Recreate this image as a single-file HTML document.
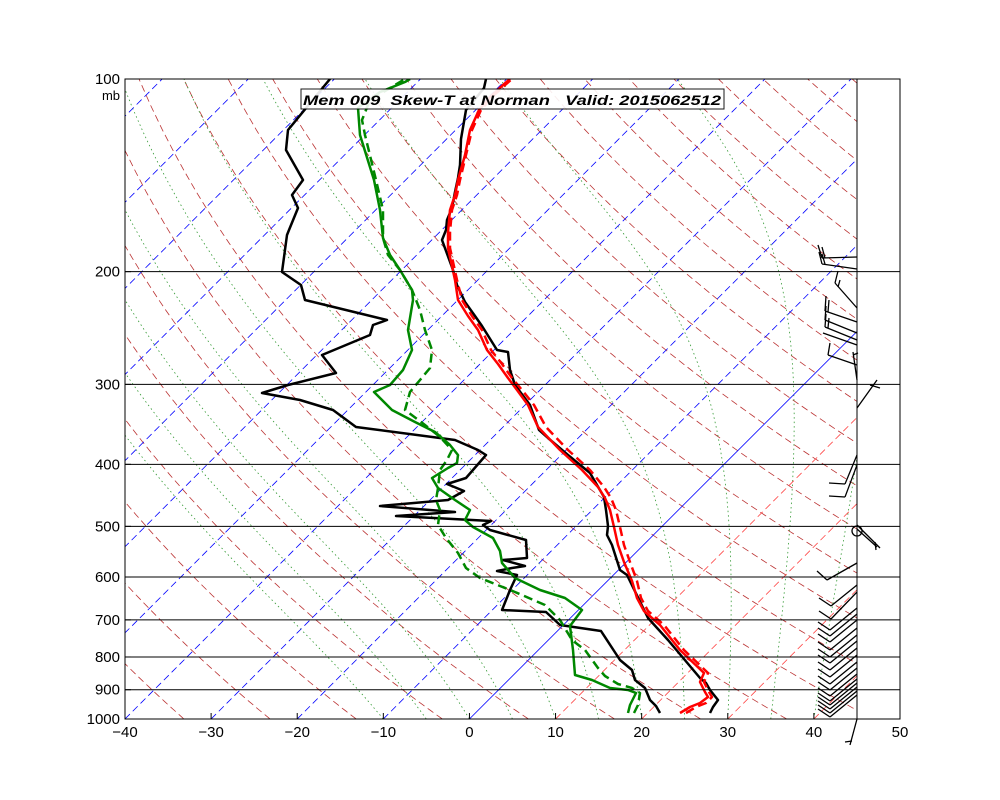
<!DOCTYPE html>
<html><head><meta charset="utf-8"><style>
body{margin:0;background:#fff;}
svg{display:block;font-family:"Liberation Sans",sans-serif;}
</style></head><body>
<svg id="s" width="1000" height="800" xmlns="http://www.w3.org/2000/svg">
<defs><clipPath id="c"><rect x="125" y="79" width="732" height="640"/></clipPath></defs>
<g id="bg" clip-path="url(#c)"></g>
<g id="data" clip-path="url(#c)" fill="none" stroke-width="2.5" stroke-linejoin="round">
<polyline stroke="#000" points="710,713 713,707 718,700 710,690 706,683 700,678 668,640 648,618 627,575 620,570 612,545 607,535 608,526 606,510 604,497 597,485 590,473 568,455 548,438 539,430 530,405 515,385 510,370 508,352 497,350 482,326 475,316 465,302 457,285 453,270 442,240 446,230 447,220 452,208 455,192 458,178 460,165 461,139 466,110 476,98 484,88 486,79"/>
<polyline stroke="#f00" stroke-dasharray="9,5" points="686,713 696,707 706,703 712,697 709,692 704,682 708,673 684,650 664,625 648,611 641,598 637,581 630,562 624,545 620,527 616,510 611,498 604,487 590,470 568,450 546,427 534,405 522,390 512,378 502,364 491,350 482,330 472,316 462,300 457,280 450,248 450,232 452,210 457,195 460,180 466,155 472,130 481,110 492,97 505,85 512,79"/>
<polyline stroke="#f00" points="680,713 690,707 700,703 708,697 705,692 700,682 704,673 680,650 660,625 644,611 637,598 632,581 624,562 618,545 614,527 610,510 605,498 598,487 582,470 560,450 538,427 528,405 517,390 508,378 498,364 487,350 478,330 468,316 458,300 455,280 448,248 448,232 450,210 455,195 458,180 465,155 470,130 479,110 490,97 503,85 510,79"/>
<polyline stroke="#000" points="660,713 656,706 650,700 645,688 635,680 632,670 620,660 601,631 560,625 546,612 502,610 510,590 517,575 497,571 512,568 525,566 503,560 527,558 526,540 490,530 483,525 491,521 396,516 455,512 380,506 448,500 464,491 447,484 466,478 486,455 478,450 455,440 356,427 333,410 300,400 262,393 288,385 336,373 322,355 370,335 373,325 387,320 305,300 301,285 282,272 287,235 289,230 298,208 292,195 303,180 286,150 288,130 330,79"/>
<polyline stroke="#080" stroke-dasharray="9,5" points="634,713 638,705 640,693 632,688 618,684 605,676 598,668 585,650 572,640 560,620 545,605 515,592 480,578 466,568 458,553 446,538 438,525 440,510 436,500 438,488 440,470 447,460 452,450 440,437 425,425 405,410 410,392 420,380 430,368 432,350 425,330 420,310 412,290 400,270 388,255 383,238 383,210 376,180 365,135 362,120 370,100 395,85 405,79"/>
<polyline stroke="#080" points="628,713 630,705 636,693 628,690 610,688 592,680 575,675 573,650 570,626 582,610 565,598 540,590 515,578 502,563 500,551 493,538 473,527 465,520 470,510 455,500 438,488 432,478 448,468 457,463 458,455 450,445 435,432 415,422 392,410 374,392 390,385 403,370 412,350 408,330 413,300 412,290 400,270 390,255 383,238 380,210 374,180 360,135 358,108 380,92 405,82 410,79"/>
</g>
<g id="ax"></g>
<g id="wb" stroke="#000" stroke-width="1.3" fill="none"></g>
<rect x="301" y="89" width="423" height="20" fill="#fff" stroke="#000" stroke-width="1" opacity="0.9"/>
<text x="303" y="105" xml:space="preserve" textLength="418" lengthAdjust="spacingAndGlyphs" font-size="14" font-weight="bold" font-style="italic">Mem 009  Skew-T at Norman   Valid: 2015062512</text>
</svg>
<script>
var NS="http://www.w3.org/2000/svg";
function el(p,t,a,txt){var e=document.createElementNS(NS,t);for(var k in a)e.setAttribute(k,a[k]);if(txt!=null)e.textContent=txt;p.appendChild(e);return e;}
function Y(p){return 79+640*Math.log10(p/100);}
function X(T,p){return 469.4+T*8.611+(719-Y(p));}
var bg=document.getElementById('bg'),ax=document.getElementById('ax'),wb=document.getElementById('wb');
var ps=[];for(var p=1000;p>=100;p-=10)ps.push(p);
for(var th=240;th<=500;th+=10){var pts=ps.map(function(p){var T=th*Math.pow(p/1000,0.286)-273.15;return X(T,p).toFixed(1)+","+Y(p).toFixed(1);});
el(bg,'polyline',{points:pts.join(' '),fill:'none',stroke:'#b33',"stroke-width":0.8,"stroke-dasharray":"7,4"});}
function es(T){return 6.112*Math.exp(17.67*T/(T+243.5));}
for(var T0=-10;T0<=40;T0+=5){var T=T0,pts=[];for(var p=1000;p>=100;p-=5){pts.push(X(T,p).toFixed(1)+","+Y(p).toFixed(1));
var Tk=T+273.15,rs=0.622*es(T)/(p-es(T));var dTdp=(287*Tk+2.5e6*rs)/(p*(1004+2.5e6*2.5e6*rs*0.622/(287*Tk*Tk)));T-=dTdp*5;}
el(bg,'polyline',{points:pts.join(' '),fill:'none',stroke:'#393',"stroke-width":0.8,"stroke-dasharray":"1.5,3"});}
for(var t=-150;t<=60;t+=10){var x1=X(t,1000),x2=X(t,100);
el(bg,'line',{x1:x1,y1:719,x2:x2,y2:79,stroke:t<=0?'#00f':'#f44',"stroke-width":0.8,"stroke-dasharray":t==0?"":"7,4"});}
[200,300,400,500,600,700,800,900].forEach(function(p){el(ax,'line',{x1:125,x2:900,y1:Y(p),y2:Y(p),stroke:'#000',"stroke-width":1});});
el(ax,'rect',{x:125,y:79,width:775,height:640,fill:'none',stroke:'#000',"stroke-width":1});
el(ax,'line',{x1:857,x2:857,y1:79,y2:719,stroke:'#000',"stroke-width":1});
[100,200,300,400,500,600,700,800,900,1000].forEach(function(p){el(ax,'text',{x:120,y:Y(p)+5,"text-anchor":"end","font-size":15},p);
el(ax,'line',{x1:125,x2:131,y1:Y(p),y2:Y(p),stroke:'#000'});});
el(ax,'text',{x:120,y:100,"text-anchor":"end","font-size":13},"mb");
for(var t=-40;t<=50;t+=10){var x=125+(t+40)*8.611;el(ax,'text',{x:x,y:737,"text-anchor":"middle","font-size":15},t<0?"\u2212"+(-t):t);
el(ax,'line',{x1:x,x2:x,y1:719,y2:713,stroke:'#000'});}
function L(a,b,c,d){el(wb,'line',{x1:a,y1:b,x2:c,y2:d});}
// upper barbs
L(857,257,822,258);L(822,258,818,245);L(825,258,822,247);
L(857,269,822,264);L(822,264,819,252);L(825,264,822,254);
L(857,308,835,283);L(835,283,838,271);L(838,287,840,280);
L(857,322,825,311);L(825,311,826,296);L(828,312,829,300);
L(857,333,825,320);L(825,320,826,306);
L(857,340,825,327);L(825,327,826,314);L(828,328,829,318);
L(857,345,823,333);
L(857,365,828,355);L(828,355,830,343);
L(857,380,853,352);L(853,355,858,353);
L(857,408,877,380);L(870,385,880,388);
L(857,455,845,484);L(845,484,829,483);
L(857,465,845,497);L(845,497,829,496);
L(857,525,880,548);L(857,529,877,547);L(875,542,876,550);
el(wb,'circle',{cx:857,cy:531,r:5});
L(857,563,827,580);L(827,580,817,571);
L(857,585,831,606);L(831,606,819,598);
L(857,592,831,619);L(831,619,819,611);
[630,636,642,650,657,663,670,677,684,690,696,701,705,709,713,717].forEach(function(y){L(857,y-22,830,y);L(830,y,818,y-8);});
L(857,719,850,745);L(845,742,852,741);
</script>
</body></html>
